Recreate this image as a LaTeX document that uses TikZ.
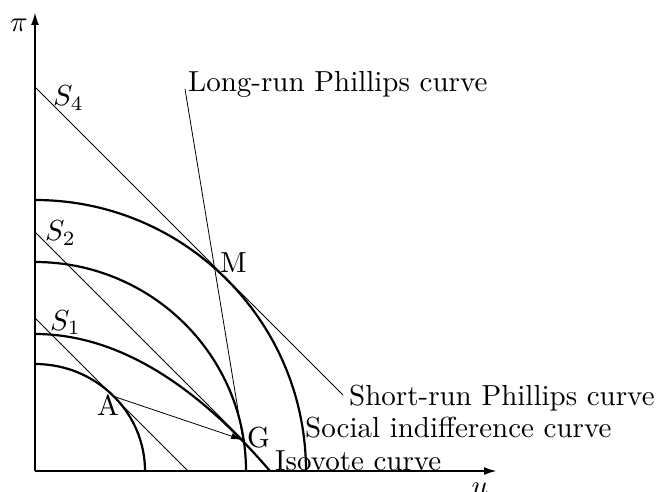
\documentclass[tikz,border=0pt]{standalone}
\usepackage{graphicx}
\usetikzlibrary{arrows.meta}
\newcommand{\bigt}[1]{\scalebox{2.9}{#1}}
\begin{document}
\begin{tikzpicture}[x=1pt,y=1pt,
  lbl/.style={font=\fontsize{10}{12}\selectfont, inner sep=0pt, anchor=base west},
  thickcurve/.style={line width=2.2pt},
  thinline/.style={line width=0.8pt},
  axis/.style={line width=2.2pt, -{Latex[length=13pt,width=8pt]}}]
\useasboundingbox (-35,-20) rectangle (621,471);
\coordinate (O) at (0,0);
\coordinate (Ytip) at (0,459);
\coordinate (Xtip) at (462,0);
\coordinate (A) at (78.8,74.6);
\coordinate (G) at (208,31);
\coordinate (S4a) at (0,384);
\coordinate (S4b) at (308,76);
\coordinate (S2a) at (0,239);
\coordinate (S1a) at (0,153);
\coordinate (S1b) at (153,0);
\coordinate (LRa) at (150,382);
% axes
\draw[axis] (O) -- (Ytip);
\draw[axis] (O) -- (Xtip);
% curves
\draw[thickcurve] (0,107) arc[start angle=90, end angle=0, x radius=110, y radius=107];
\draw[thickcurve] (0,137) .. controls (78.3,137) and (156.7,91.3) .. (235,0);
\draw[thickcurve] (0,209) arc[start angle=90, end angle=0, x radius=211, y radius=209];
\draw[thickcurve] (0,271) arc[start angle=90, end angle=0, x radius=271, y radius=271];
% lines
\draw[thinline] (S4a) -- (S4b);
\draw[thinline] (S2a) -- (G);
\draw[thinline] (S1a) -- (S1b);
\draw[thinline] (LRa) -- (G);
\draw[thinline, -{Latex[length=12pt,width=6pt]}] (A) -- (G);
% labels
\node[lbl] (lpi) at (-25,439) {\bigt{$\pi$}};
\node[lbl, anchor=north] (lu) at (445,-12) {\bigt{$u$}};
\node[lbl] (l4) at (18,365) {\bigt{$S_4$}};
\node[lbl] (l2) at (10,230) {\bigt{$S_2$}};
\node[lbl] (l1) at (15,141) {\bigt{$S_1$}};
\node[lbl] (lM) at (185,198) {\bigt{M}};
\node[lbl] (lA) at (62,56) {\bigt{A}};
\node[lbl] (lG) at (212,24) {\bigt{G}};
\node[lbl] (liso) at (240,1) {\bigt{Isovote curve}};
\node[lbl] (lsoc) at (270,34) {\bigt{Social indifference curve}};
\node[lbl] (lsr) at (314,66) {\bigt{Short-run Phillips curve}};
\node[lbl] (llr) at (153,379) {\bigt{Long-run Phillips curve}};
\end{tikzpicture}
\end{document}
